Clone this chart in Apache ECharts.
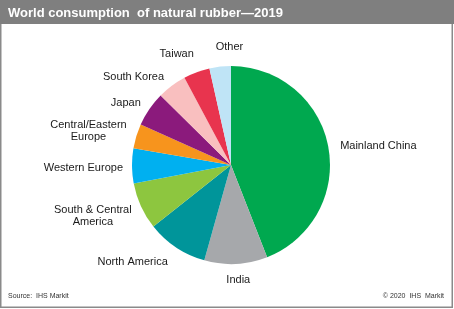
<!DOCTYPE html>
<html><head><meta charset="utf-8">
<script src="https://cdn.jsdelivr.net/npm/echarts@6/dist/echarts.min.js"></script>
<style>html,body{margin:0;padding:0;background:#fff}#c{width:454px;height:309px}</style>
</head><body><div id="c"></div>
<script>
var categories = ['Mainland China','India','North America','South & Central\nAmerica','Western Europe','Central/Eastern\nEurope','Japan','South Korea','Taiwan','Other'];
var shares = [44.1, 10.3, 10.0, 7.7, 5.7, 4.0, 5.7, 4.8, 4.3, 3.5];
var colors = ['#00a84f','#a6a8ab','#00959a','#8dc63f','#00b0f0','#f7941d','#8b1a7c','#f9bfbf','#e8344e','#bfe4f6'];

// label nudges (style only, in px) to mimic the reference's label placement
var labelNudge = [[-3,1],[-17,8],[3,8],[5,7],[6,2],[5,-3],[5,-2],[4,-2],[7,-11],[31,-12]];

var chart = echarts.init(document.getElementById('c'), null, {renderer:'canvas'});
var data = categories.map(function(n,i){
  return {name:n, value:shares[i], itemStyle:{color:colors[i]}};
});
var ff = 'Liberation Sans, Arial, sans-serif';
chart.setOption({
  animation:false,
  title:[
    {text:'World consumption  of natural rubber\u20142019', left:8, top:7, padding:0,
     textStyle:{color:'#fff', fontFamily:ff, fontWeight:'bold', fontSize:13}},
    {text:'Source:  IHS Markit', left:8, top:293, padding:0,
     textStyle:{color:'#333', fontFamily:ff, fontWeight:'normal', fontSize:7}},
    {text:'\u00a9 2020  IHS  Markit', right:10, top:293, padding:0,
     textStyle:{color:'#333', fontFamily:ff, fontWeight:'normal', fontSize:7}}
  ],
  graphic:[
    {type:'rect', z:-10, shape:{x:0.75,y:0.75,width:451.5,height:306.5}, style:{fill:'#fff', stroke:'#8a8a8a', lineWidth:1.5}},
    {type:'rect', z:-9, shape:{x:0,y:0,width:454,height:24}, style:{fill:'#7f7f7f'}}
  ],
  series:[{
    type:'pie',
    center:[231,165],
    radius:[0,99],
    startAngle:90,
    clockwise:true,
    avoidLabelOverlap:false,
    minShowLabelAngle:0,
    itemStyle:{borderWidth:0},
    label:{show:true, position:'outside', color:'#1a1a1a', fontSize:11, fontFamily:ff,
      formatter:function(p){return p.name.split('\n').map(function(s){return '{c|'+s+'}';}).join('\n');},
      rich:{c:{align:'center', fontSize:11, color:'#1a1a1a', fontFamily:ff, lineHeight:12}}
    },
    labelLine:{show:false, length:8, length2:2},
    labelLayout:function(p){
      var n = labelNudge[p.dataIndex];
      return {dx:n[0], dy:n[1], hideOverlap:false};
    },
    emphasis:{disabled:true},
    data:data
  }]
});
</script></body></html>
